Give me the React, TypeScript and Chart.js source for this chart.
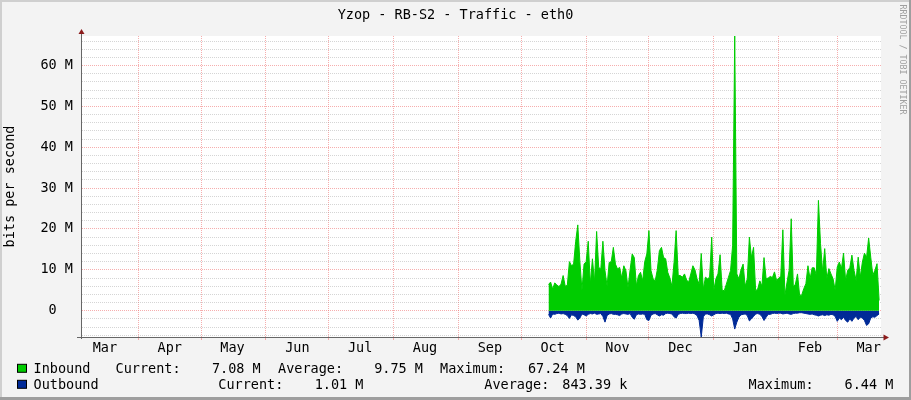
import React, { useEffect, useRef } from "react";
import { Chart, registerables } from "chart.js";

Chart.register(...registerables);

const FONT_FAMILY = "'DejaVu Sans Mono', 'Liberation Mono', monospace";
const FONT_SIZE = 13.5;

const chartTitle = "Yzop - RB-S2 - Traffic - eth0";
const yAxisTitle = "bits per second";
const watermark = "RRDTOOL / TOBI OETIKER";

// Time axis in days, counted from 1 April of the first year (day 0).
const axisStartDay = -27.4;
const axisEndDay = 354.9;
const monthStartDays = [-31, 0, 30, 61, 91, 122, 153, 183, 214, 244, 275, 306, 334, 365];
const monthNames = ["Mar", "Apr", "May", "Jun", "Jul", "Aug", "Sep", "Oct", "Nov", "Dec", "Jan", "Feb", "Mar", "Apr"];
const monthLabelOffsetDays = 15;

// Value axis in Mbit/s (outbound is mirrored below zero).
const yMin = -6.44;
const yMax = 67.24;
const yMinorStep = 2;
const yMajorStep = 10;

// One sample per day, starting at this day.
const firstSampleDay = 196;

// Inbound traffic, Mbit/s.
const inboundMbps = [
  6.4, 7.0, 5.3, 6.8, 6.3, 5.9, 6.5, 8.6, 6.0, 6.2,
  12, 11, 11.4, 17, 21, 12, 5.0, 11.4, 12, 17,
  6.5, 12.7, 7, 19.4, 10.6, 10.2, 17, 9.8, 6, 11.8,
  12, 15.5, 11.4, 10.2, 10.6, 8, 11, 9.8, 5.6, 10,
  13.9, 13, 6.1, 8.6, 9.4, 7.3, 12, 13.9, 19.6, 9.8,
  7.8, 7.3, 10, 14.7,
  15.5, 13, 12.7, 9.4, 8, 6, 11.8, 19.6, 8.6, 8.6,
  8.2, 9, 7.5, 7, 9, 11, 10, 7.8, 6.5, 14,
  5.3, 8.2, 7.8, 8.2, 18, 5, 7.8, 9, 13.7, 5,
  4.9, 6.5, 8.2, 9.8, 16, 67.24, 9, 7.8, 10, 11.4,
  6, 7.8, 18, 13, 15.5, 4.9, 5.3, 7.3, 6, 13,
  7.8, 8,
  8.4, 8.1, 9.5, 7.4, 8, 8.4, 19.8, 3.8, 7, 9.9,
  22.5, 5.8, 6.5, 9, 3.8, 3.8, 5.4, 6.6, 11, 7.8,
  10.5, 10.5, 8.7, 27, 16.4, 9.5, 15.2, 7.8, 10.3, 9,
  7.8, 5, 10.7, 11.9, 10.3, 14.1, 7.4, 9.9, 10.5, 13.6,
  9.9, 7.4, 13.1, 8.2, 11.9, 14.1, 13, 17.8, 13.1, 8.7,
  9.9, 11.5, 2.5,
];

// Outbound traffic, Mbit/s.
const outboundMbps = [
  0.9, 1.8, 0.8, 0.9, 0.7, 0.6, 0.8, 0.7, 0.9, 1.2,
  1.9, 1.0, 1.2, 1.5, 2.3, 1.8, 0.8, 1.0, 1.3, 0.9,
  0.7, 0.8, 0.6, 0.9, 0.8, 0.7, 1.4, 2.8, 1.2, 0.8,
  0.7, 0.9, 0.9, 1.0, 1.2, 0.8, 0.7, 0.8, 0.9, 0.7,
  1.6, 2.1, 1.0, 0.8, 0.9, 0.8, 0.9, 2.2, 2.4, 1.1,
  0.8, 0.7, 1.0, 1.3,
  1.0, 1.1, 0.7, 0.6, 0.7, 0.8, 1.5, 1.8, 0.9, 0.7,
  0.6, 0.7, 0.7, 0.6, 0.7, 0.6, 0.8, 1.2, 2.4, 6.44,
  1.5, 0.8, 0.8, 1.0, 1.3, 1.0, 0.7, 0.6, 0.7, 0.6,
  0.7, 0.6, 0.8, 0.9, 2.0, 4.5, 2.8, 1.6, 1.0, 0.9,
  0.8, 1.2, 2.5, 2.0, 1.4, 0.8, 0.7, 0.9, 1.4, 2.4,
  1.6, 0.9,
  0.9, 0.7, 0.6, 0.7, 0.6, 0.6, 0.8, 0.7, 0.6, 0.8,
  0.9, 0.7, 0.6, 0.6, 0.5, 0.5, 0.6, 0.7, 0.8, 0.9,
  0.8, 1.0, 1.1, 1.3, 1.1, 1.0, 1.2, 1.0, 1.1, 0.9,
  1.0, 1.4, 2.6, 1.8, 2.2, 1.6, 2.4, 2.8, 2.0, 2.6,
  1.8, 1.4, 2.2, 1.6, 1.8, 2.4, 3.6, 3.2, 1.8, 1.5,
  1.6, 1.2, 0.8,
];

const inboundStats = { current: "7.08 M", average: "9.75 M", maximum: "67.24 M" };
const outboundStats = { current: "1.01 M", average: "843.39 k", maximum: "6.44 M" };

const INBOUND_COLOR = "#00cc00";
const OUTBOUND_COLOR = "#002a97";
const MAJOR_GRID = "rgba(240, 120, 120, 0.6)";
const MINOR_GRID = "rgba(150, 150, 150, 0.4)";
const AXIS_COLOR = "#666666";
const ARROW_COLOR = "#8c1c1c";

const font = { family: FONT_FAMILY, size: FONT_SIZE, weight: "normal" as const, lineHeight: 1.2 };

const boundaryDays = monthStartDays.filter((d) => d >= axisStartDay && d <= axisEndDay);
const labelDays: { day: number; name: string }[] = monthStartDays
  .map((d, i) => ({ day: d + monthLabelOffsetDays, name: monthNames[i] }))
  .filter((m) => m.day >= axisStartDay && m.day <= axisEndDay);
const xTickValues = [...boundaryDays, ...labelDays.map((m) => m.day)].sort((a, b) => a - b);

const yTickValues: number[] = [];
for (let v = Math.ceil(yMin / yMinorStep) * yMinorStep; v <= yMax; v += yMinorStep) yTickValues.push(v);

const isBoundary = (v: number | undefined) => v !== undefined && boundaryDays.includes(v);
const isMajorY = (v: number | undefined) => v !== undefined && Math.abs(v % yMajorStep) < 1e-9;

const frame = {
  id: "rrdFrame",
  beforeDraw(chart: any) {
    const { ctx, width, height, chartArea: a } = chart;
    ctx.save();
    ctx.fillStyle = "#f3f3f3";
    ctx.fillRect(0, 0, width, height);
    ctx.fillStyle = "#cfcfcf";
    ctx.fillRect(0, 0, width, 2);
    ctx.fillRect(0, 0, 2, height);
    ctx.fillStyle = "#9e9e9e";
    ctx.fillRect(0, height - 3, width, 3);
    ctx.fillRect(width - 2, 0, 2, height);
    ctx.fillStyle = "#ffffff";
    ctx.fillRect(a.left, a.top, a.right - a.left, a.bottom - a.top);
    ctx.restore();
  },
  afterDraw(chart: any) {
    const { ctx, chartArea: a } = chart;
    ctx.save();
    // axis extensions and arrows
    ctx.strokeStyle = AXIS_COLOR;
    ctx.lineWidth = 1;
    ctx.beginPath();
    ctx.moveTo(a.left + 0.5, a.top - 3);
    ctx.lineTo(a.left + 0.5, a.bottom + 2);
    ctx.moveTo(a.left - 4, a.bottom + 0.5);
    ctx.lineTo(a.right + 3, a.bottom + 0.5);
    ctx.stroke();
    ctx.fillStyle = ARROW_COLOR;
    ctx.beginPath();
    ctx.moveTo(a.left + 0.5, a.top - 7);
    ctx.lineTo(a.left - 2.5, a.top - 2);
    ctx.lineTo(a.left + 3.5, a.top - 2);
    ctx.closePath();
    ctx.fill();
    ctx.beginPath();
    ctx.moveTo(a.right + 8, a.bottom + 0.5);
    ctx.lineTo(a.right + 2.5, a.bottom - 2.5);
    ctx.lineTo(a.right + 2.5, a.bottom + 3.5);
    ctx.closePath();
    ctx.fill();

    // legend: [text, x, align]
    ctx.font = `${FONT_SIZE}px ${FONT_FAMILY}`;
    ctx.textBaseline = "alphabetic";
    const rows = [
      {
        color: INBOUND_COLOR,
        base: 373.3,
        items: [
          ["Inbound", 33.5, "left"],
          ["Current:", 115.5, "left"],
          [inboundStats.current, 260.7, "right"],
          ["Average:", 278, "left"],
          [inboundStats.average, 423, "right"],
          ["Maximum:", 440, "left"],
          [inboundStats.maximum, 584.8, "right"],
        ],
      },
      {
        color: OUTBOUND_COLOR,
        base: 389.3,
        items: [
          ["Outbound", 33.5, "left"],
          ["Current:", 218.3, "left"],
          [outboundStats.current, 363.5, "right"],
          ["Average:", 484.3, "left"],
          [outboundStats.average, 627.3, "right"],
          ["Maximum:", 748.6, "left"],
          [outboundStats.maximum, 893.3, "right"],
        ],
      },
    ];
    rows.forEach((r) => {
      ctx.fillStyle = r.color;
      ctx.fillRect(17.5, r.base - 9, 9, 8);
      ctx.strokeStyle = "#000";
      ctx.strokeRect(17.5, r.base - 9, 9, 8);
      ctx.fillStyle = "#000";
      r.items.forEach(([t, x, al]) => {
        ctx.textAlign = al as CanvasTextAlign;
        ctx.fillText(t as string, x as number, r.base);
      });
    });

    // vertical credit text
    ctx.font = `8.3px ${FONT_FAMILY}`;
    ctx.fillStyle = "#a0a0a0";
    ctx.textAlign = "left";
    ctx.translate(902, 4.5);
    ctx.rotate(Math.PI / 2);
    ctx.textBaseline = "middle";
    ctx.fillText(watermark, 0, 0);
    ctx.restore();
  },
};

export default function App() {
  const ref = useRef<HTMLCanvasElement | null>(null);

  useEffect(() => {
    if (!ref.current) return;
    const inboundPts = inboundMbps.map((v, i) => ({ x: firstSampleDay + i, y: v }));
    const outboundPts = outboundMbps.map((v, i) => ({ x: firstSampleDay + i, y: -v }));

    const chart = new Chart(ref.current, {
      type: "line",
      data: {
        datasets: [
          {
            label: "Inbound",
            data: inboundPts,
            fill: "origin",
            backgroundColor: INBOUND_COLOR,
            borderColor: INBOUND_COLOR,
            borderWidth: 1,
            pointRadius: 0,
            tension: 0,
          },
          {
            label: "Outbound",
            data: outboundPts,
            fill: "origin",
            backgroundColor: OUTBOUND_COLOR,
            borderColor: OUTBOUND_COLOR,
            borderWidth: 1,
            pointRadius: 0,
            tension: 0,
          },
        ],
      },
      options: {
        responsive: false,
        animation: false,
        devicePixelRatio: 1,
        events: [],
        layout: { padding: 0 },
        plugins: {
          legend: { display: false },
          tooltip: { enabled: false },
          title: {
            display: true,
            text: chartTitle,
            color: "#000",
            font,
            padding: { top: 7, bottom: 12.8 },
          },
        },
        scales: {
          x: {
            type: "linear",
            min: axisStartDay,
            max: axisEndDay,
            bounds: "data",
            afterBuildTicks: (scale: any) => {
              scale.ticks = xTickValues.map((v) => ({ value: v }));
            },
            afterFit: (scale: any) => {
              scale.height = 63;
            },
            ticks: {
              autoSkip: false,
              maxRotation: 0,
              minRotation: 0,
              padding: 0,
              color: "#000",
              font,
              callback: (value: any) => {
                const m = labelDays.find((l) => l.day === value);
                return m ? m.name : "";
              },
            },
            grid: {
              color: (c: any) => (isBoundary(c.tick?.value) ? MAJOR_GRID : "rgba(0,0,0,0)"),
              tickColor: (c: any) => (isBoundary(c.tick?.value) ? MAJOR_GRID : "rgba(0,0,0,0)"),
              drawTicks: true,
              tickLength: 3,
              lineWidth: 1,
            },
            border: { display: true, color: AXIS_COLOR, width: 1, dash: [1, 1] },
          },
          y: {
            type: "linear",
            position: "left",
            min: yMin,
            max: yMax,
            bounds: "data",
            afterBuildTicks: (scale: any) => {
              scale.ticks = yTickValues.map((v) => ({ value: v }));
            },
            afterFit: (scale: any) => {
              scale.width = 81;
            },
            ticks: {
              autoSkip: false,
              padding: 8,
              color: "#000",
              font,
              callback: (value: any) => {
                if (!isMajorY(value)) return "";
                return value === 0 ? "0  " : `${value} M`;
              },
            },
            grid: {
              color: (c: any) => (isMajorY(c.tick?.value) ? MAJOR_GRID : MINOR_GRID),
              drawTicks: false,
              lineWidth: 1,
            },
            border: { display: true, color: AXIS_COLOR, width: 1, dash: [1, 1] },
            title: {
              display: true,
              text: yAxisTitle,
              color: "#000",
              font,
              padding: { top: 2.2, bottom: 0 },
            },
          },
          // empty right-hand margin that holds the vertical credit text
          margin: {
            type: "linear",
            position: "right",
            min: yMin,
            max: yMax,
            grid: { display: false, drawTicks: false },
            border: { display: false },
            ticks: { display: false },
            afterFit: (scale: any) => {
              scale.width = 30;
            },
          },
        },
      },
      plugins: [frame],
    } as any);

    return () => chart.destroy();
  }, []);

  return (
    <div style={{ position: "absolute", left: 0, top: 0, width: 911, height: 400 }}>
      <canvas ref={ref} width={911} height={400} style={{ display: "block" }} />
    </div>
  );
}
